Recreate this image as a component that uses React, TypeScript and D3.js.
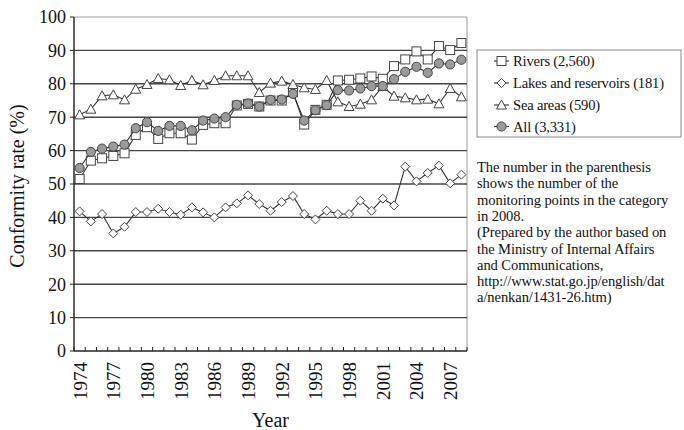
import React from "react";
import * as d3 from "d3";

const years: number[] = d3.range(1974, 2009);
const tickYears = [1974, 1977, 1980, 1983, 1986, 1989, 1992, 1995, 1998, 2001, 2004, 2007];
const yTicks = [0, 10, 20, 30, 40, 50, 60, 70, 80, 90, 100];

const rivers = [51.5, 57, 57.7, 58.4, 59.2, 64.7, 67, 63.5, 65.2, 65.2, 63.3, 67.7, 68.2, 68.2, 73.5, 74, 73.2, 75, 75, 77.5, 67.8, 72.2, 73.7, 81, 81.2, 81.6, 82.2, 81.5, 85.3, 87.3, 89.7, 87.3, 91.3, 90.1, 92.2];
const lakes = [41.8, 38.8, 41, 35.2, 37.2, 41.6, 41.6, 42.6, 41.6, 40.8, 43, 41.5, 40, 43, 44.2, 46.6, 44, 42, 44.6, 46.4, 41, 39.4, 42, 41, 41, 45, 42, 45.6, 43.6, 55.2, 50.8, 53.3, 55.5, 50.2, 52.8];
const sea = [70.7, 72.4, 76.4, 76.7, 75.2, 78.4, 79.8, 81.6, 81.2, 79.5, 81, 79.7, 81, 82.4, 82.4, 82.4, 77.4, 80.2, 80.8, 79.8, 78.8, 78.3, 81, 74.6, 73.2, 73.9, 75.2, 79.2, 76.3, 75.8, 75.2, 75.4, 74, 78.6, 76.1];
const all = [54.8, 59.6, 60.6, 61.2, 61.8, 66.7, 68.5, 65.9, 67.4, 67.4, 66.1, 69, 69.6, 70, 73.7, 74.1, 73.2, 75.2, 75.3, 77, 69, 72.1, 73.6, 78.1, 78, 78.6, 79.3, 79.3, 81.4, 83.6, 85.1, 83.3, 86.1, 85.8, 87.2];

const legendLabels = ["Rivers (2,560)", "Lakes and reservoirs (181)", "Sea areas (590)", "All (3,331)"];
const noteLines = [
  "The number in the parenthesis",
  "shows the number of the",
  "monitoring points in the category",
  "in 2008.",
  "(Prepared by the author based on",
  "the Ministry of Internal Affairs",
  "and Communications,",
  "http://www.stat.go.jp/english/dat",
  "a/nenkan/1431-26.htm)",
];

const W = 684, H = 430;
const L = 74, R = 467, T = 17, B = 351;
const FONT = "'Liberation Serif', 'DejaVu Serif', serif";
const LINE = "#333";
const MS = "#444";

type Kind = "square" | "diamond" | "triangle" | "circle";

function Marker({ kind, x, y }: { kind: Kind; x: number; y: number }) {
  if (kind === "square") return <rect x={x - 4.5} y={y - 4.5} width={9} height={9} fill="#fff" stroke={MS} strokeWidth={1} />;
  if (kind === "diamond") return <path d={`M${x},${y - 4.5}L${x + 4.5},${y}L${x},${y + 4.5}L${x - 4.5},${y}Z`} fill="#fff" stroke={MS} strokeWidth={1} />;
  if (kind === "triangle") return <path d={`M${x},${y - 5}L${x + 5},${y + 4}L${x - 5},${y + 4}Z`} fill="#fff" stroke={MS} strokeWidth={1} />;
  return <circle cx={x} cy={y} r={4.6} fill="#9a9a9a" stroke={MS} strokeWidth={1} />;
}

export default function App() {
  const x = d3.scaleBand<number>().domain(years).range([L, R]).padding(0);
  const cx = (yr: number) => (x(yr) as number) + x.bandwidth() / 2;
  const y = d3.scaleLinear().domain([0, 100]).range([B, T]);
  const series: { vals: number[]; kind: Kind }[] = [
    { vals: rivers, kind: "square" },
    { vals: lakes, kind: "diamond" },
    { vals: sea, kind: "triangle" },
    { vals: all, kind: "circle" },
  ];
  const line = d3.line<number>().x((_, i) => cx(years[i])).y((v) => y(v));
  const boundaries = d3.range(years.length + 1).map((i) => L + i * x.bandwidth());

  const legX = 477, legY = 50, legW = 204, legH = 87;
  const rowY = [61, 83, 105, 126.5];

  return (
    <svg width={W} height={H} style={{ position: "absolute", left: 0, top: 0, background: "#fff" }} fontFamily={FONT}>
      <rect x={0} y={0} width={W} height={H} fill="#fff" />
      {/* plot frame */}
      <line x1={L} x2={R} y1={T} y2={T} stroke="#9a9a9a" strokeWidth={1} />
      <line x1={R} x2={R} y1={T} y2={B} stroke="#9a9a9a" strokeWidth={1} />
      {yTicks.filter((t) => t > 0 && t < 100).map((t) => (
        <line key={t} x1={L} x2={R} y1={y(t)} y2={y(t)} stroke="#444" strokeWidth={1.4} />
      ))}
      {/* axes */}
      <line x1={L} x2={L} y1={T} y2={B} stroke="#222" strokeWidth={1.4} />
      <line x1={L} x2={R} y1={B} y2={B} stroke="#222" strokeWidth={1.6} />
      {yTicks.map((t) => (
        <line key={"yt" + t} x1={L - 4} x2={L} y1={y(t)} y2={y(t)} stroke="#222" strokeWidth={1} />
      ))}
      {boundaries.map((bx, i) => (
        <line key={"xt" + i} x1={bx} x2={bx} y1={B} y2={B - 4} stroke="#222" strokeWidth={1} />
      ))}
      {yTicks.map((t) => (
        <text key={"yl" + t} x={L - 8} y={y(t)} dy="0.35em" textAnchor="end" fontSize={18} fill="#111">{t}</text>
      ))}
      {tickYears.map((yr) => (
        <text key={"xl" + yr} transform={`translate(${cx(yr) + 7},${B + 11}) rotate(-90)`} textAnchor="end" fontSize={19} fill="#111">{yr}</text>
      ))}
      <text transform={`translate(${24},${(T + B) / 2 + 2}) rotate(-90)`} textAnchor="middle" fontSize={20} fill="#111">Conformity rate (%)</text>
      <text x={(L + R) / 2} y={427} textAnchor="middle" fontSize={20} fill="#111">Year</text>

      {/* series */}
      {series.map((s, si) => (
        <g key={"s" + si}>
          <path d={line(s.vals) || ""} fill="none" stroke={LINE} strokeWidth={1.1} />
          {s.vals.map((v, i) => (
            <Marker key={i} kind={s.kind} x={cx(years[i])} y={y(v)} />
          ))}
        </g>
      ))}

      {/* legend */}
      <rect x={legX} y={legY} width={legW} height={legH} fill="#fff" stroke="#888" strokeWidth={1} />
      {series.map((s, i) => (
        <g key={"lg" + i}>
          <line x1={legX + 17} x2={legX + 32} y1={rowY[i]} y2={rowY[i]} stroke={LINE} strokeWidth={1.1} />
          <Marker kind={s.kind} x={legX + 24.5} y={rowY[i]} />
          <text x={legX + 36} y={rowY[i]} dy="0.35em" fontSize={14.6} fill="#111" letterSpacing={-0.2}>{legendLabels[i]}</text>
        </g>
      ))}

      {/* note */}
      {noteLines.map((t, i) => (
        <text key={"n" + i} x={477} y={172 + i * 16.3} fontSize={14.6} fill="#111" letterSpacing={-0.1}>{t}</text>
      ))}
    </svg>
  );
}
